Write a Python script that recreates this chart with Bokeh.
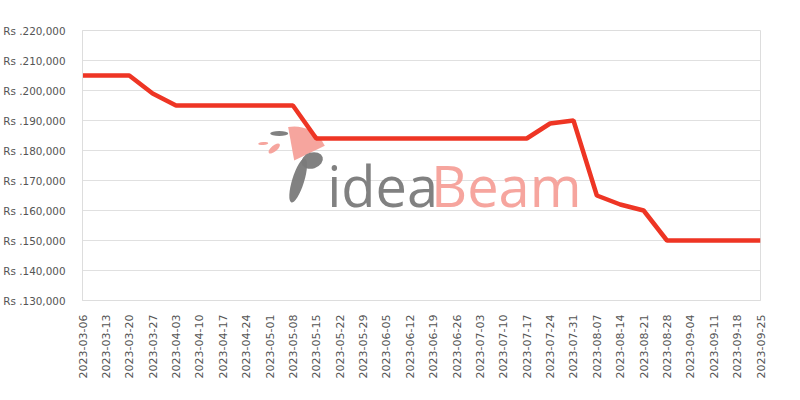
import math
from bokeh.plotting import figure
from bokeh.models import Range1d, FixedTicker, ColumnDataSource
from bokeh.core.properties import value
from bokeh.embed import file_html
from bokeh.resources import INLINE

dates = ["2023-03-06", "2023-03-13", "2023-03-20", "2023-03-27", "2023-04-03",
         "2023-04-10", "2023-04-17", "2023-04-24", "2023-05-01", "2023-05-08",
         "2023-05-15", "2023-05-22", "2023-05-29", "2023-06-05", "2023-06-12",
         "2023-06-19", "2023-06-26", "2023-07-03", "2023-07-10", "2023-07-17",
         "2023-07-24", "2023-07-31", "2023-08-07", "2023-08-14", "2023-08-21",
         "2023-08-28", "2023-09-04", "2023-09-11", "2023-09-18", "2023-09-25"]
prices = [205000, 205000, 205000, 199000, 195000,
          195000, 195000, 195000, 195000, 195000,
          184000, 184000, 184000, 184000, 184000,
          184000, 184000, 184000, 184000, 184000,
          189000, 190000, 165000, 162000, 160000,
          150000, 150000, 150000, 150000, 150000]
y_ticks = [130000, 140000, 150000, 160000, 170000, 180000, 190000, 200000, 210000, 220000]
y_tick_labels = ["Rs .130,000", "Rs .140,000", "Rs .150,000", "Rs .160,000", "Rs .170,000",
                 "Rs .180,000", "Rs .190,000", "Rs .200,000", "Rs .210,000", "Rs .220,000"]

xs = list(range(len(dates)))
src = ColumnDataSource(dict(x=xs, y=prices))

p = figure(width=800, height=400, output_backend="svg", toolbar_location=None,
           x_range=Range1d(0, len(dates) - 1), y_range=Range1d(130000, 220000),
           min_border_left=81, min_border_right=40, min_border_top=30, min_border_bottom=100)
p.background_fill_color = "white"
p.border_fill_color = "white"
p.outline_line_color = "#dddddd"

# watermark (decorative, placed in screen-ish terms)
def wx(px):
    return (px - 81) / (679 / 29)

def wy(py):
    return 220000 - (py - 30) * 1000 / 3

p.wedge(x=[wx(293)], y=[wy(160)], radius=34, radius_units="screen",
        start_angle=0.45, end_angle=1.75, fill_color="#f6a099", line_color=None, fill_alpha=0.95)
p.ellipse(x=[wx(297)], y=[wy(180)], width=12, height=46, width_units="screen",
          height_units="screen", angle=-0.3, fill_color="#7a7a7a", line_color=None, fill_alpha=0.95)
p.ellipse(x=[wx(311)], y=[wy(160)], width=22, height=16, width_units="screen",
          height_units="screen", angle=0.3, fill_color="#7a7a7a", line_color=None, fill_alpha=0.95)
p.ellipse(x=[wx(278)], y=[wy(133)], width=18, height=5, width_units="screen",
          height_units="screen", angle=0.0, fill_color="#7a7a7a", line_color=None, fill_alpha=0.95)
p.ellipse(x=[wx(262)], y=[wy(143)], width=10, height=3, width_units="screen",
          height_units="screen", angle=0.1, fill_color="#f6a099", line_color=None, fill_alpha=0.95)
p.ellipse(x=[wx(273)], y=[wy(148)], width=14, height=6, width_units="screen",
          height_units="screen", angle=0.7, fill_color="#f6a099", line_color=None, fill_alpha=0.95)

p.text(x=[wx(326)], y=[wy(184)], text=["idea"], text_font=value("Open Sans"),
       text_font_size="56px", text_color="#7a7a7a", text_alpha=0.95,
       text_baseline="alphabetic", text_align="left")
p.text(x=[wx(430)], y=[wy(184)], text=["Beam"], text_font=value("Open Sans"),
       text_font_size="56px", text_color="#f6a099", text_alpha=0.95,
       text_baseline="alphabetic", text_align="left")

p.line("x", "y", source=src, line_color="#ee3524", line_width=4.5)

p.xaxis.ticker = FixedTicker(ticks=xs)
p.xaxis.major_label_overrides = {i: d for i, d in enumerate(dates)}
p.xaxis.major_label_orientation = math.pi / 2
p.yaxis.ticker = FixedTicker(ticks=y_ticks)
p.yaxis.major_label_overrides = {t: l for t, l in zip(y_ticks, y_tick_labels)}

for ax in (p.xaxis, p.yaxis):
    ax.major_label_text_font = "DejaVu Sans"
    ax.major_label_text_color = "#555555"
    ax.major_tick_line_color = None
    ax.minor_tick_line_color = None
    ax.axis_line_color = "#dddddd"
p.xaxis.major_label_text_font_size = "11px"
p.yaxis.major_label_text_font_size = "10.4px"
p.yaxis.major_label_standoff = 11
p.xaxis.major_label_standoff = 8

p.xgrid.grid_line_color = None
p.ygrid.grid_line_color = "#e0e0e0"
p.ygrid.ticker = FixedTicker(ticks=y_ticks)

open("out.html", "w").write(file_html(p, INLINE))
